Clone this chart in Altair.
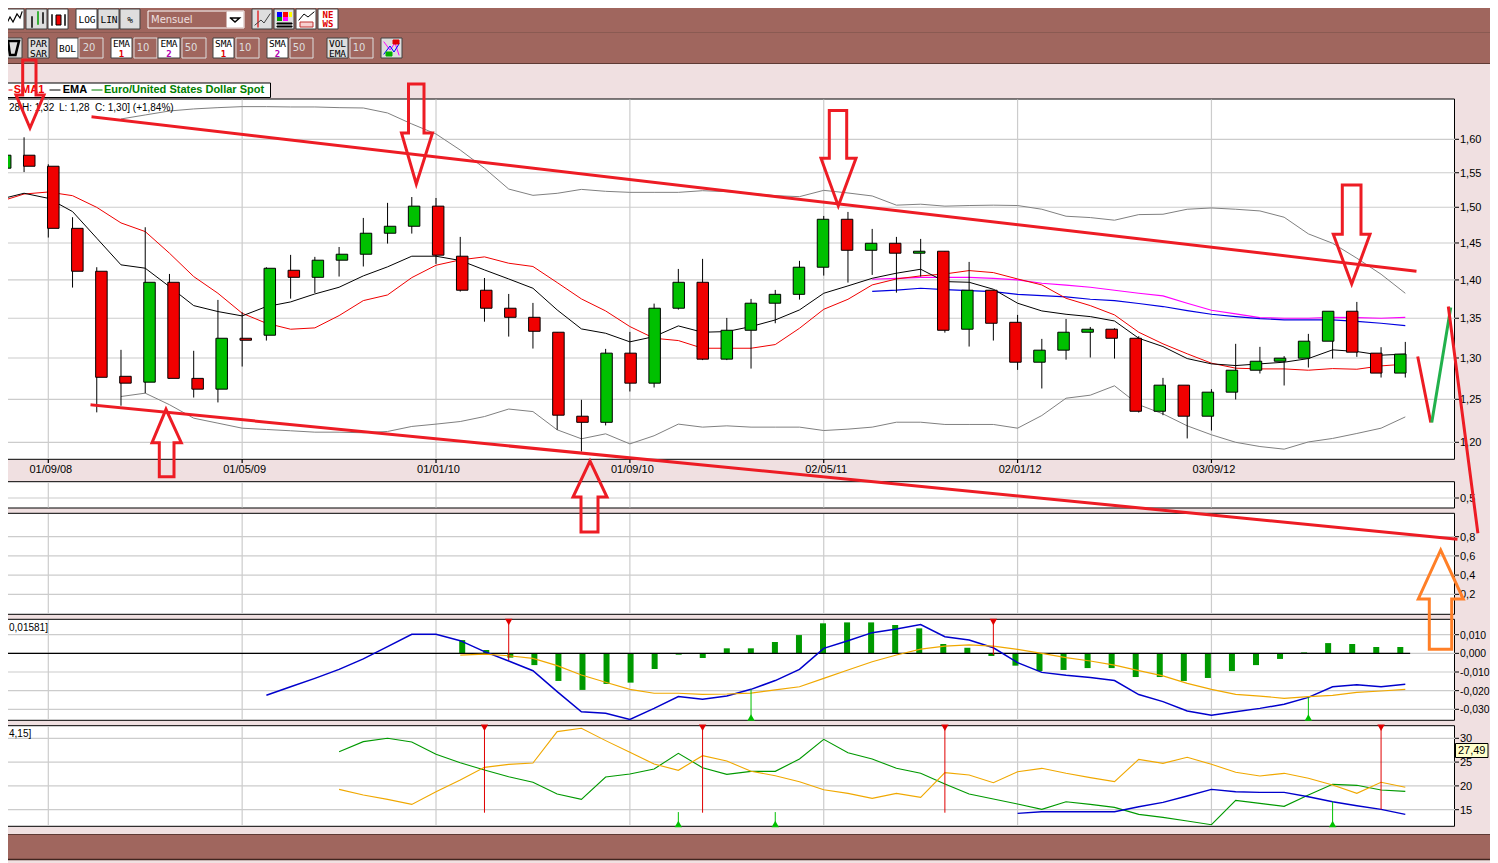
import altair as alt
import pandas as pd

# ---------- scales ----------
SX = alt.Scale(domain=[0, 1498], range=[-8, 1490])
SY = alt.Scale(domain=[0, 863], range=[-8, 855])
MX = alt.Scale(domain=[0, 56], range=[40.3, 1397.3])
PY = alt.Scale(type="log", domain=[1.2, 1.6], range=[434.3, 131.3])
S2Y = alt.Scale(domain=[0, 1], range=[500.5, 479.5])
S3Y = alt.Scale(domain=[0.2, 0.8], range=[586.3, 528.7])
MY = alt.Scale(domain=[-0.03, 0.01], range=[701.3, 626.7])
AY = alt.Scale(domain=[15, 30], range=[801.7, 730.3])

# ---------- candles ----------
CANDLE_I = list(range(-2, 57))
HIGH = [1.579,1.603,1.5625,1.4859,1.417,1.3101,1.4718,1.408,1.3089,1.3737,1.3577,1.417,1.4337,1.431,1.4445,1.4849,1.5063,1.5147,1.5133,1.4584,1.4026,1.3815,1.3698,1.3322,1.2494,1.3113,1.3326,1.3689,1.4147,1.4283,1.3504,1.375,1.3868,1.4256,1.4877,1.4934,1.4695,1.4584,1.4556,1.4387,1.4242,1.3864,1.3543,1.3238,1.3491,1.3389,1.3372,1.3271,1.2757,1.2669,1.2621,1.3176,1.3138,1.3023,1.3301,1.359,1.3711,1.3134,1.32]
BODY_TOP = [1.576,1.576,1.5596,1.4703,1.4116,1.2776,1.3969,1.3969,1.2751,1.3246,1.3246,1.4156,1.4129,1.4265,1.4346,1.4635,1.4732,1.5016,1.5016,1.4319,1.3864,1.3629,1.3512,1.3322,1.2301,1.306,1.306,1.3629,1.3969,1.3969,1.3347,1.3694,1.381,1.417,1.483,1.483,1.4496,1.4496,1.4387,1.4387,1.3864,1.3864,1.3448,1.3097,1.3322,1.336,1.336,1.3246,1.2669,1.2669,1.2585,1.285,1.296,1.2998,1.3209,1.359,1.359,1.306,1.3048]
BODY_BOT = [1.5567,1.5596,1.4703,1.4116,1.2764,1.2693,1.2705,1.2751,1.2621,1.2621,1.3221,1.3284,1.4035,1.4035,1.4265,1.4346,1.4635,1.4732,1.4333,1.3864,1.3629,1.3512,1.3334,1.2313,1.223,1.223,1.2693,1.2693,1.3629,1.2986,1.2986,1.3347,1.3694,1.381,1.417,1.44,1.44,1.436,1.436,1.3347,1.336,1.3436,1.2948,1.2948,1.3097,1.3322,1.3246,1.2359,1.2359,1.2301,1.2301,1.2585,1.285,1.296,1.2998,1.3209,1.3072,1.2815,1.2815]
LOW = [1.554,1.551,1.4575,1.3899,1.2346,1.2424,1.2573,1.2751,1.2521,1.2463,1.2895,1.3217,1.3754,1.3828,1.4045,1.418,1.4492,1.463,1.4215,1.3846,1.3456,1.3267,1.3117,1.2143,1.1895,1.2194,1.2593,1.2641,1.3611,1.2974,1.2974,1.287,1.3436,1.3741,1.4058,1.3965,1.4067,1.3832,1.4045,1.3317,1.3142,1.3217,1.2854,1.2629,1.298,1.3006,1.2993,1.2344,1.2313,1.2044,1.2135,1.2498,1.281,1.2665,1.2883,1.2993,1.3014,1.2761,1.2761]
UPDOWN = "GRRRRRGRRGRGRGGGGGRRRRRRRGRGGRGGGGGRGRGRGRRGGGRRGRGGGGGGRRG"
CANDLE_COL = {"G": "#00C000", "R": "#F00000"}

# ---------- overlays on price ----------
EMA1 = [1.5114,1.5201,1.5128,1.4939,1.4566,1.4202,1.4157,1.3912,1.3663,1.3586,1.353,1.365,1.3711,1.3815,1.3903,1.4054,1.4175,1.4319,1.4319,1.4261,1.4134,1.4013,1.389,1.3607,1.3364,1.3309,1.3201,1.3267,1.3402,1.3322,1.333,1.3394,1.3478,1.3607,1.3824,1.3921,1.4022,1.409,1.4143,1.3978,1.3969,1.3877,1.3694,1.3594,1.3551,1.3521,1.3465,1.3246,1.3142,1.2993,1.2928,1.2907,1.2928,1.2948,1.2993,1.3101,1.308,1.3035,1.3048]
SMA1 = [1.5081,1.519,1.5219,1.5166,1.4999,1.4779,1.4658,1.436,1.4045,1.3824,1.3564,1.3436,1.336,1.3377,1.3534,1.3728,1.3802,1.4031,1.4197,1.4269,1.431,1.4224,1.418,1.3965,1.375,1.3594,1.3394,1.3246,1.3217,1.3121,1.3121,1.3121,1.3167,1.3372,1.3615,1.3745,1.3934,1.4013,1.4054,1.408,1.4125,1.4098,1.4013,1.3934,1.3758,1.3663,1.3543,1.3322,1.3176,1.3052,1.2936,1.2875,1.2866,1.2866,1.285,1.287,1.2862,1.2903,1.2924]
BOLL_UP = [1.6312,1.6374,1.6436,1.6468,1.6488,1.6504,1.6504,1.6499,1.6499,1.6488,1.6483,1.6405,1.6235,1.6081,1.5838,1.5567,1.5262,1.5171,1.52,1.5257,1.5229,1.5214,1.5214,1.5214,1.5238,1.5224,1.52,1.5166,1.5152,1.5243,1.5205,1.5162,1.503,1.5044,1.5016,1.5025,1.503,1.5025,1.4972,1.4873,1.4854,1.4817,1.4896,1.4901,1.4972,1.499,1.4972,1.4948,1.4859,1.4626,1.4496,1.4292,1.4076,1.3824]
BOLL_LO = [1.2533,1.2573,1.2436,1.2278,1.222,1.2162,1.2147,1.2132,1.2116,1.2116,1.2109,1.2124,1.2182,1.2209,1.2239,1.2297,1.2385,1.2355,1.2143,1.204,1.2097,1.1982,1.2075,1.2209,1.2174,1.2189,1.2174,1.2174,1.2174,1.2135,1.2151,1.2174,1.2231,1.2231,1.2205,1.2205,1.2205,1.2162,1.2309,1.2513,1.2549,1.2661,1.2436,1.2328,1.2189,1.2086,1.2,1.1952,1.1922,1.2004,1.2044,1.2101,1.2162,1.2293]
SMA2 = [1.4009,1.4022,1.4035,1.4035,1.4035,1.4022,1.40,1.3956,1.393,1.3903,1.3864,1.3824,1.3789,1.3694,1.3603,1.3555,1.3508,1.35,1.35,1.3512,1.3508,1.35,1.3512]
SMA3 = [1.385,1.3864,1.389,1.3872,1.3859,1.3846,1.381,1.3793,1.3776,1.3746,1.3728,1.369,1.3651,1.3598,1.3551,1.3521,1.3496,1.3478,1.3478,1.3478,1.3461,1.3436,1.3406]

# ---------- MACD ----------
MACD = [-.0225,-.0179,-.0134,-.0086,-.003,.0036,.0102,.0102,.0068,.0009,-.0041,-.0093,-.0205,-.0313,-.0321,-.0354,-.0295,-.0232,-.0246,-.0229,-.0193,-.0146,-.0086,.0027,.0068,.0111,.013,.0154,.0089,.0071,.003,-.005,-.0102,-.0118,-.013,-.0146,-.0221,-.0259,-.0309,-.0332,-.0313,-.0295,-.0273,-.0236,-.0179,-.0168,-.0179,-.0166]
SIGNAL = [-.0009,-.0004,-.0013,-.0027,-.0066,-.0116,-.0155,-.0193,-.0214,-.0214,-.022,-.0218,-.0213,-.0196,-.0179,-.0134,-.0089,-.0045,-.0009,.0023,.0039,.0045,.0039,.0021,0,-.0023,-.0041,-.0063,-.0093,-.0121,-.0161,-.0193,-.022,-.0229,-.0241,-.0232,-.0225,-.0209,-.0202,-.0193]
HIST = [.0071,.0018,-.0023,-.0063,-.0148,-.0196,-.0164,-.0157,-.0084,-.0007,-.0025,.0027,.0027,.0061,.0098,.0161,.0166,.0166,.0152,.0134,.005,.003,-.0014,-.0066,-.0095,-.0089,-.0079,-.0079,-.0127,-.0127,-.0148,-.0132,-.0095,-.0063,-.003,.0005,.0055,.005,.0034,.0034]

# ---------- DMI ----------
DI_PLUS = [27.19,29.30,30.0,29.23,26.63,24.88,23.34,21.94,20.75,18.29,17.17,21.87,22.50,23.55,26.84,23.83,22.43,23.06,23.06,25.65,29.79,26.98,25.65,23.69,22.64,20.40,18.29,17.24,16.19,15.07,16.68,16.12,15.49,14.02,13.39,12.62,11.85,16.96,16.33,15.70,18.08,20.33,20.12,19.13,18.85]
DI_MINUS = [19.27,18.08,17.17,16.12,18.78,21.24,23.90,24.53,24.81,31.40,32.10,29.51,27.05,24.60,23.27,26.35,25.23,23.06,22.15,20.89,19.20,18.43,17.38,18.43,17.59,22.78,22.29,20.68,22.99,23.69,22.64,21.73,20.89,25.58,24.74,26.0,24.53,22.85,22.08,22.64,21.59,20.19,18.43,20.75,19.70]
ADX = [14.23,14.58,14.58,14.58,14.58,15.63,16.54,17.87,19.27,18.78,18.64,18.64,17.73,16.68,15.84,15.07,14.02]

# ---------- text, ticks ----------
DATE_I = [0, 8, 16, 24, 32, 40, 48]
DATE_LAB = ["01/09/08", "01/05/09", "01/01/10", "01/09/10", "02/05/11", "02/01/12", "03/09/12"]
P_TICKS = [1.60, 1.55, 1.50, 1.45, 1.40, 1.35, 1.30, 1.25, 1.20]
P_LABS = ["1,60", "1,55", "1,50", "1,45", "1,40", "1,35", "1,30", "1,25", "1,20"]
S3_TICKS = [0.8, 0.6, 0.4, 0.2]
S3_LABS = ["0,8", "0,6", "0,4", "0,2"]
M_TICKS = [0.01, 0, -0.01, -0.02, -0.03]
M_LABS = ["0,010", "0,000", "-0,010", "-0,020", "-0,030"]
A_TICKS = [30, 25, 20, 15]
A_LABS = ["30", "25", "20", "15"]

BROWN = "#A0665E"
PINK = "#F0E0E1"
GRID = "#CCCCCC"
ARIAL = "Liberation Sans"
layers = []


def rects(rows):
    df = pd.DataFrame(rows, columns=["x", "y", "x2", "y2", "f", "s"])
    layers.append(alt.Chart(df).mark_rect(strokeWidth=1).encode(
        x=alt.X("x:Q", scale=SX, axis=None), x2="x2:Q",
        y=alt.Y("y:Q", scale=SY, axis=None), y2="y2:Q",
        fill=alt.Fill("f:N", scale=None), stroke=alt.Stroke("s:N", scale=None)))


def poly(pts, color, width=1.0):
    df = pd.DataFrame({"x": [p[0] for p in pts], "y": [p[1] for p in pts], "o": list(range(len(pts)))})
    layers.append(alt.Chart(df).mark_line(color=color, strokeWidth=width, strokeJoin="miter", strokeCap="square").encode(
        x=alt.X("x:Q", scale=SX, axis=None), y=alt.Y("y:Q", scale=SY, axis=None), order="o:Q"))


def stext(rows, size=11, color="black", weight="normal", align="left", font=ARIAL):
    df = pd.DataFrame(rows, columns=["x", "y", "t"])
    layers.append(alt.Chart(df).mark_text(fontSize=size, color=color, fontWeight=weight, align=align,
                                          baseline="middle", font=font).encode(
        x=alt.X("x:Q", scale=SX, axis=None), y=alt.Y("y:Q", scale=SY, axis=None), text="t:N"))


def series(start, vals, scale, color, width=1.0):
    df = pd.DataFrame({"i": list(range(start, start + len(vals))), "v": vals})
    layers.append(alt.Chart(df).mark_line(color=color, strokeWidth=width).encode(
        x=alt.X("i:Q", scale=MX, axis=None), y=alt.Y("v:Q", scale=scale, axis=None)))


def hgrid(ticks, labs, scale, size=11):
    df = pd.DataFrame({"v": ticks, "a": [-10] * len(ticks), "b": [1455] * len(ticks),
                       "c": [1459] * len(ticks), "x": [1460] * len(ticks), "t": labs})
    base = alt.Chart(df)
    y = alt.Y("v:Q", scale=scale, axis=None)
    layers.append(base.mark_rule(color=GRID, strokeWidth=1.2).encode(
        x=alt.X("a:Q", scale=SX, axis=None), x2="b:Q", y=y))
    layers.append(base.mark_rule(color="black", strokeWidth=1).encode(
        x=alt.X("b:Q", scale=SX, axis=None), x2="c:Q", y=y))
    layers.append(base.mark_text(fontSize=size, font=ARIAL, align="left", baseline="middle", color="black", dy=1).encode(
        x=alt.X("x:Q", scale=SX, axis=None), y=y, text="t:N"))


def vgrid(top, bot, color=GRID):
    df = pd.DataFrame({"i": DATE_I, "a": [top] * len(DATE_I), "b": [bot] * len(DATE_I)})
    layers.append(alt.Chart(df).mark_rule(color=color, strokeWidth=1.2).encode(
        x=alt.X("i:Q", scale=MX, axis=None), y=alt.Y("a:Q", scale=SY, axis=None), y2="b:Q"))


def signals(items, scale, color, shape, tip):
    df = pd.DataFrame(items, columns=["i", "a", "b"])
    df["p"] = tip
    layers.append(alt.Chart(df).mark_rule(color=color, strokeWidth=1).encode(
        x=alt.X("i:Q", scale=MX, axis=None), y=alt.Y("a:Q", scale=scale, axis=None), y2="b:Q"))
    layers.append(alt.Chart(df).mark_point(shape=shape, filled=True, color=color, size=55, opacity=1).encode(
        x=alt.X("i:Q", scale=MX, axis=None), y=alt.Y("p:Q", scale=scale, axis=None)))


# ---------- window ----------
rects([(0, 0, 1498, 863, PINK, "transparent"),
       (0, 0, 1498, 63, BROWN, "transparent"),
       (0, 835, 1498, 860, BROWN, "transparent"),
       (1494, 0, 1498, 863, "#8A5A52", "transparent")])
poly([(0, 63.5), (1498, 63.5)], "#5E3A34", 1)
poly([(0, 834.5), (1498, 834.5)], "#5E3A34", 1)
poly([(0, 859.5), (1498, 859.5)], "#40241F", 1.5)
poly([(0, 32.5), (1498, 32.5)], "#8A5A52", 1)

# ---------- toolbar ----------
LG, WH = "#DEDEDE", "#FFFFFF"
rects([(3, 9, 24, 29, WH, "#404040"), (26, 9, 47, 29, LG, "#404040"), (48, 9, 68, 29, WH, "#404040"),
       (76, 9, 97, 29, WH, "#404040"), (98, 9, 119, 29, LG, "#404040"), (120, 9, 140, 29, LG, "#404040"),
       (148, 11, 244, 28, BROWN, WH), (227, 12, 243, 27, WH, WH),
       (252, 9, 272, 29, LG, "#404040"), (274, 9, 294, 29, LG, "#404040"),
       (296, 9, 316, 29, WH, "#404040"), (318, 9, 338, 29, WH, "#404040"),
       (1, 38, 22, 58, LG, "#404040"), (28, 38, 49, 58, LG, "#404040"), (57, 38, 78, 58, WH, "#404040"),
       (79, 38, 103, 58, BROWN, LG),
       (111, 38, 132, 58, WH, "#404040"), (134, 38, 157, 58, BROWN, LG),
       (158, 38, 180, 58, WH, "#404040"), (182, 38, 206, 58, BROWN, LG),
       (213, 38, 234, 58, WH, "#404040"), (236, 38, 259, 58, BROWN, LG),
       (267, 38, 288, 58, WH, "#404040"), (290, 38, 313, 58, BROWN, LG),
       (327, 38, 348, 58, LG, "#404040"), (350, 38, 373, 58, BROWN, LG),
       (381, 38, 402, 58, LG, "#404040"),
       # colour palette, candle bodies
       (277, 12, 282, 17, "#0000FF", "transparent"), (283, 12, 288, 17, "#FF0000", "transparent"),
       (289, 12, 292, 17, "#FFFF00", "transparent"), (277, 17, 282, 21, "#00A000", "transparent"),
       (283, 17, 288, 21, "#FF00FF", "transparent"), (277, 23, 292, 24, "black", "black"),
       (277, 26, 292, 27, "black", "black"),
       (56, 15, 61, 25, "#F00000", "black"),
       (300, 22, 313, 27, "#F8D0D0", "#C03030")])
poly([(6, 25), (10, 17), (13, 22), (17, 14), (20, 18), (22, 12)], "black", 1.2)
poly([(32, 17), (32, 27)], "black", 1.5)
poly([(38, 12), (38, 24)], "#00A000", 1.5)
poly([(43, 13), (43, 23)], "black", 1.5)
poly([(52, 15), (52, 25)], "black", 1.5)
poly([(65, 15), (65, 25)], "black", 1.5)
poly([(258, 11), (258, 27)], "#E00000", 1.2)
poly([(255, 25), (261, 20), (264, 23), (270, 14)], "#404040", 1)
poly([(299, 20), (304, 14), (308, 17), (314, 12)], "black", 1)
poly([(230.5, 18), (239.5, 18), (235, 22), (230.5, 18)], "black", 1.5)
poly([(8, 41), (19, 41), (15.5, 55), (10, 55), (8, 41)], "black", 2.5)
poly([(384, 42), (390, 50), (395, 43), (399, 55)], "#FF00FF", 1)
poly([(384, 54), (390, 46), (394, 52), (399, 44)], "#0000FF", 1)
rects([(386, 52, 392, 56, "#00B000", "#00B000"), (393, 40, 399, 44, "#E00000", "#E00000")])
stext([(87, 20, "LOG"), (109, 20, "LIN"), (130, 20, "%"),
       (67.5, 49, "BOL"),
       (38.5, 43.5, "PAR"), (38.5, 53.5, "SAR"),
       (121.5, 44, "EMA"), (169, 44, "EMA"), (223.5, 44, "SMA"), (277.5, 44, "SMA"),
       (337.5, 43.5, "VOL"), (337.5, 53.5, "EMA")], size=9.5, align="center", font="DejaVu Sans Mono")
stext([(121.5, 54, "1"), (223.5, 54, "1")], size=9, color="#E00000", weight="bold", align="center", font="DejaVu Sans Mono")
stext([(169, 54, "2"), (277.5, 54, "2")], size=9, color="#B000B0", weight="bold", align="center", font="DejaVu Sans Mono")
stext([(328, 14.5, "NE"), (328, 23.5, "WS")], size=9, color="#E00000", weight="bold", align="center", font="DejaVu Sans Mono")
stext([(151, 20, "Mensuel")], size=10, color="#EFE0E0", font="DejaVu Sans")
stext([(89, 47.5, "20"), (143, 47.5, "10"), (191, 47.5, "50"), (245, 47.5, "10"), (299, 47.5, "50"), (359, 47.5, "10")],
      size=10, color=LG, align="center", font="DejaVu Sans")

# ---------- panels ----------
rects([(-10, 99, 1454.5, 459.3, WH, "black"),
       (-10, 481.7, 1454.5, 508, WH, "black"),
       (-10, 513.3, 1454.5, 614.3, WH, "black"),
       (-10, 619.3, 1454.5, 720.3, WH, "black"),
       (-10, 725.7, 1454.5, 826.3, WH, "black")])
vgrid(99.5, 459)
vgrid(482, 507.5)
vgrid(514, 614)
vgrid(620, 720)
vgrid(726, 826)
vgrid(459, 463, "black")
hgrid(P_TICKS, P_LABS, PY)
hgrid([0.5], ["0,5"], S2Y)
hgrid(S3_TICKS, S3_LABS, S3Y)
hgrid(M_TICKS, M_LABS, MY, size=10.4)
hgrid(A_TICKS, A_LABS, AY)

# date labels
date_df = pd.DataFrame({"i": DATE_I, "y": [470] * len(DATE_I), "t": DATE_LAB})
layers.append(alt.Chart(date_df).mark_text(fontSize=11, font=ARIAL, align="center", baseline="middle", dx=2.5).encode(
    x=alt.X("i:Q", scale=MX, axis=None), y=alt.Y("y:Q", scale=SY, axis=None), text="t:N"))

# ---------- price overlays ----------
series(3, BOLL_UP, PY, "#808080")
series(3, BOLL_LO, PY, "#808080")
series(34, SMA2, PY, "#FF00FF", 1.2)
series(34, SMA3, PY, "#0000E0", 1.2)
series(-2, SMA1, PY, "#F00000")
series(-2, EMA1, PY, "#000000")

# ---------- candles ----------
cdf = pd.DataFrame({"i": CANDLE_I, "h": HIGH, "l": LOW, "t": BODY_TOP, "b": BODY_BOT,
                    "c": [CANDLE_COL[k] for k in UPDOWN]})
layers.append(alt.Chart(cdf).mark_rule(color="black", strokeWidth=1).encode(
    x=alt.X("i:Q", scale=MX, axis=None), y=alt.Y("h:Q", scale=PY, axis=None), y2="l:Q"))
layers.append(alt.Chart(cdf).mark_bar(size=11.5, stroke="black", strokeWidth=1, orient="vertical").encode(
    x=alt.X("i:Q", scale=MX, axis=None), y=alt.Y("t:Q", scale=PY, axis=None), y2="b:Q",
    fill=alt.Fill("c:N", scale=None)))

# ---------- MACD panel ----------
hdf = pd.DataFrame({"i": list(range(17, 17 + len(HIST))), "v": HIST, "z": [0] * len(HIST)})
layers.append(alt.Chart(hdf).mark_bar(size=6, color="#009900", orient="vertical").encode(
    x=alt.X("i:Q", scale=MX, axis=None), y=alt.Y("v:Q", scale=MY, axis=None), y2="z:Q"))
zdf = pd.DataFrame({"a": [-3], "b": [56.2], "v": [0]})
layers.append(alt.Chart(zdf).mark_rule(color="black", strokeWidth=1.3).encode(
    x=alt.X("a:Q", scale=MX, axis=None), x2="b:Q", y=alt.Y("v:Q", scale=MY, axis=None)))
series(9, MACD, MY, "#0000CC", 1.5)
series(17, SIGNAL, MY, "#F0A800", 1.2)
signals([(19, .0182, -.0036), (39, .0182, -.0009)], MY, "#E00000", "triangle-down", .0168)
signals([(29, -.0359, -.0193), (52, -.0359, -.0236)], MY, "#00C000", "triangle-up", -.0344)

# ---------- DMI panel ----------
series(12, DI_PLUS, AY, "#009900", 1.1)
series(12, DI_MINUS, AY, "#F0A800", 1.1)
series(40, ADX, AY, "#0000CC", 1.4)
signals([(18, 32.66, 14.37), (27, 32.66, 14.37), (37, 32.66, 14.37), (55, 32.66, 15.07)], AY, "#E00000", "triangle-down", 32.2)
signals([(26, 11.5, 14.5), (30, 11.5, 14.5), (53, 11.5, 16.68)], AY, "#00C000", "triangle-up", 12.0)

# ---------- legend and header texts ----------
rects([(-10, 83, 270.5, 97.5, WH, "black")])
poly([(9, 90), (12, 90)], "#F00000", 1)
poly([(50, 90), (60, 90)], "black", 1)
poly([(92, 90), (102, 90)], "#008000", 1)
stext([(13.7, 90, "SMA1")], size=11, color="#F00000", weight="bold")
stext([(62.7, 90, "EMA")], size=11, color="black", weight="bold")
stext([(104, 90, "Euro/United States Dollar Spot")], size=11, color="#008000", weight="bold")
stext([(9, 107.5, "28"), (22, 107.5, "H: 1,32"), (59, 107.5, "L: 1,28"), (95, 107.5, "C: 1,30] (+1,84%)"),
       (9, 627.5, "0,01581]"), (9, 733.5, "4,15]")], size=10)
rects([(1455.5, 743.5, 1488, 757.5, "#FFFFCC", "black")])
stext([(1471.7, 750.5, "27,49")], size=11, align="center")

# ---------- hand-drawn annotations ----------
RED = "#ED1C24"
ORANGE = "#FF7F27"
TREND_UP = [(93, 117), (1415, 271)]
TREND_LOW = [(92, 405), (1456, 539)]
ZIG_DOWN = [(1418, 358), (1430.5, 421)]
ZIG_UP = [(1432, 421), (1450.5, 309)]
ZIG_FALL = [(1448.5, 308), (1477.7, 531.7)]
ARROWS_DOWN = [
    (22.7, 36, 60, 95, 16, 44, 128, 30),
    (408.5, 424, 84, 133, 401.5, 432.5, 184, 416.3),
    (829.3, 846.7, 110.5, 158.3, 821, 856, 206, 838.3),
    (1342.3, 1361, 185, 234.3, 1333.3, 1370, 284, 1351.7),
]
ARROWS_UP = [
    (159.3, 174, 476.7, 442.7, 152, 181.3, 409.3, 166, RED),
    (581, 598, 532, 497, 573, 607, 461, 590, RED),
    (1429.3, 1451.7, 649.3, 599, 1418.3, 1463.3, 550, 1440.7, ORANGE),
]
poly(TREND_UP, RED, 3)
poly(TREND_LOW, RED, 3)
poly(ZIG_DOWN, RED, 3)
poly(ZIG_UP, "#22B14C", 3)
poly(ZIG_FALL, RED, 3)
for (a, b, t, m, c, d, tip, xt) in ARROWS_DOWN:
    poly([(a, t), (b, t), (b, m), (d, m), (xt, tip), (c, m), (a, m), (a, t)], RED, 3)
for (a, b, t, m, c, d, tip, xt, col) in ARROWS_UP:
    poly([(a, t), (b, t), (b, m), (d, m), (xt, tip), (c, m), (a, m), (a, t)], col, 3)

chart = alt.layer(*layers).resolve_scale(x="independent", y="independent", color="independent",
                                         fill="independent", stroke="independent").properties(
    width=1482, height=855, padding=0, autosize=alt.AutoSizeParams(type="none"),
    background=PINK,
).configure_view(stroke=None)

chart.save("out.html", embed_options={"renderer": "svg", "actions": False})
